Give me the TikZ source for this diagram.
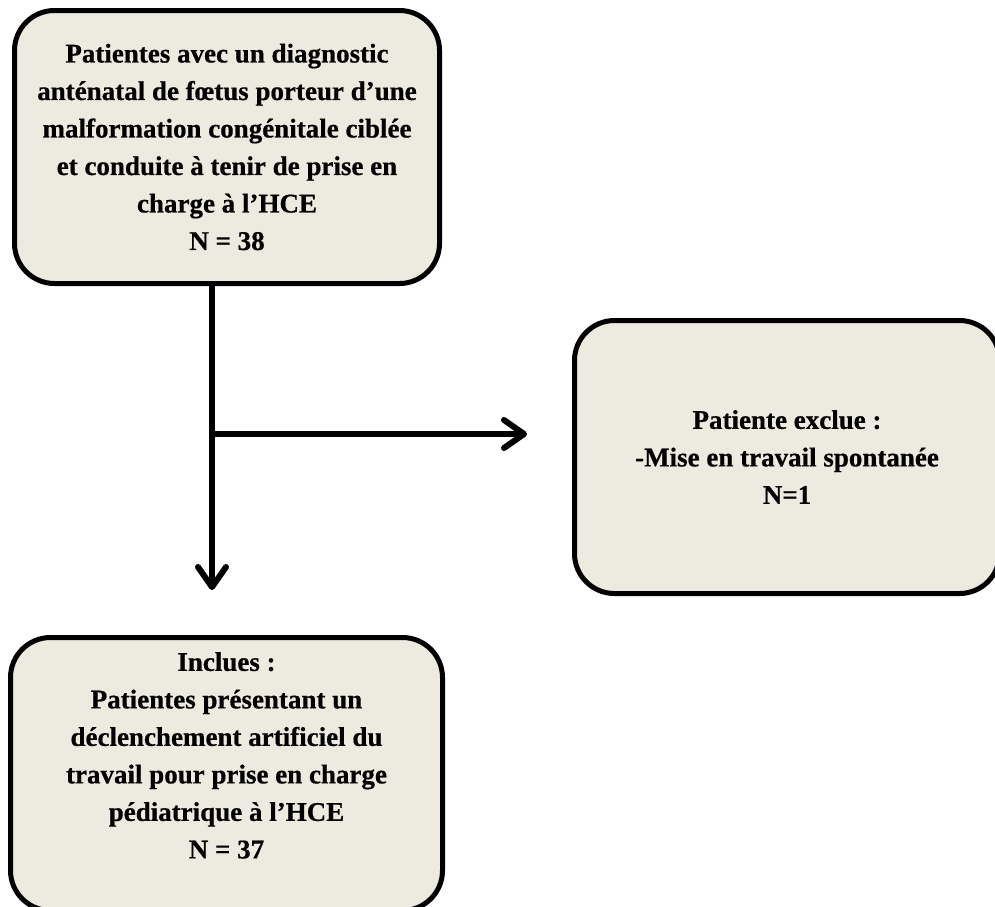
\documentclass[tikz,border=0pt]{standalone}
\usepackage{fontspec}
\setmainfont{Liberation Serif}
\newfontfamily\boxfont[FakeBold=0.6]{Liberation Serif Bold}
\usetikzlibrary{arrows.meta}
\definecolor{boxfill}{HTML}{EDEAE0}
\begin{document}
\begin{tikzpicture}[x=1pt,y=-1pt,
  flowbox/.style={draw=black, line width=5pt, fill=boxfill, rounded corners=40pt,
    minimum width=425pt, minimum height=273pt, inner sep=0pt, align=center,
    font=\boxfont\fontsize{27}{37.5}\selectfont},
  flowarrow/.style={line width=6pt, line cap=round, -{Straight Barb[length=20pt,width=28pt,round]}}]
\useasboundingbox (0,0) rectangle (995,906);
\clip (0,0) rectangle (995,906);
\node[flowbox] (top) at (227,147) {Patientes avec un diagnostic\\anténatal de fœtus porteur d’une\\malformation congénitale ciblée\\et conduite à tenir de prise en\\charge à l’HCE\\N = 38};
\node[flowbox] (excl) at (787,457) {Patiente exclue :\\-Mise en travail spontanée\\N=1};
\node[flowbox, minimum width=432pt] (incl) at (226.5,774) {Inclues :\\Patientes présentant un\\déclenchement artificiel du\\travail pour prise en charge\\pédiatrique à l’HCE\\N = 37\\\mbox{}};
\coordinate (branch) at (212,434);
\coordinate (downend) at (212,590);
\coordinate (rightend) at (527,434);
\draw[flowarrow] ([xshift=-15pt]top.south) -- (downend);
\draw[flowarrow] (branch) -- (rightend);
\end{tikzpicture}
\end{document}
